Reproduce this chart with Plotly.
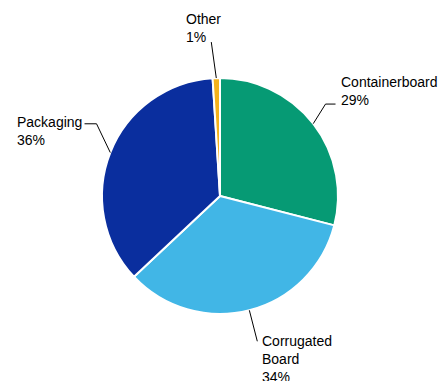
import math
import plotly.graph_objects as go

# ---- data ----
categories = ["Containerboard", "Corrugated Board", "Packaging", "Other"]
values = [29, 34, 36, 1]
label_text = ["Containerboard<br>29%", "Corrugated<br>Board<br>34%", "Packaging<br>36%", "Other<br>1%"]

# ---- style ----
colors = ["#069A74", "#41B6E6", "#0A2E9E", "#F5B21C"]
OFF = 8               # default page body margin
W, H = 446 - OFF, 381 - OFF
CX, CY, R = 220, 196, 118   # in window pixels
LINE_R = 150          # radius where leader line ends
label_nudge = {"Containerboard": (-13, 0), "Corrugated Board": (0, 0),
               "Packaging": (16, -17), "Other": (-4, -4)}
FONT = dict(family="Liberation Sans, Arial, Helvetica, sans-serif", size=14, color="#000000")


def px(x):
    return (x - OFF) / W


def py(y):
    return 1 - (y - OFF) / H


fig = go.Figure(go.Pie(
    labels=categories, values=values, sort=False, direction="clockwise",
    rotation=0, marker=dict(colors=colors, line=dict(color="white", width=2)),
    textinfo="none", hoverinfo="label+percent", showlegend=False,
    domain=dict(x=[px(CX - R), px(CX + R)], y=[py(CY + R), py(CY - R)]),
))


def seg(x0, y0, x1, y1):
    return dict(type="line", xref="paper", yref="paper",
                x0=px(x0), y0=py(y0), x1=px(x1), y1=py(y1),
                line=dict(color="black", width=1))


total = sum(values)
cum = 0
shapes, annos = [], []
for cat, v, txt in zip(categories, values, label_text):
    mid = (cum + v / 2) / total * 2 * math.pi
    cum += v
    s, c = math.sin(mid), math.cos(mid)
    ex, ey = CX + R * s, CY - R * c
    dx, dy = label_nudge[cat]
    lx, ly = CX + LINE_R * s + dx, CY - LINE_R * c + dy
    shapes.append(seg(ex, ey, lx, ly))
    if cat == "Containerboard":
        shapes.append(seg(lx, ly, lx + 10, ly))
        annos.append(dict(x=px(lx + 13), y=py(ly + 6), xanchor="left", yanchor="bottom", text=txt))
    elif cat == "Packaging":
        shapes.append(seg(lx, ly, lx - 12, ly))
        annos.append(dict(x=px(lx - 13), y=py(ly - 12), xanchor="right", yanchor="top", text=txt))
    elif cat == "Corrugated Board":
        annos.append(dict(x=px(lx + 3), y=py(ly - 10), xanchor="left", yanchor="top", text=txt))
    else:
        annos.append(dict(x=px(lx + 12), y=py(ly + 5), xanchor="right", yanchor="bottom", text=txt))

for a in annos:
    a.update(xref="paper", yref="paper", showarrow=False, align="left", font=FONT)

fig.update_layout(
    width=W, height=H, margin=dict(l=0, r=0, t=0, b=0),
    paper_bgcolor="white", plot_bgcolor="white",
    shapes=shapes, annotations=annos, showlegend=False,
)
fig.write_html("out.html")
